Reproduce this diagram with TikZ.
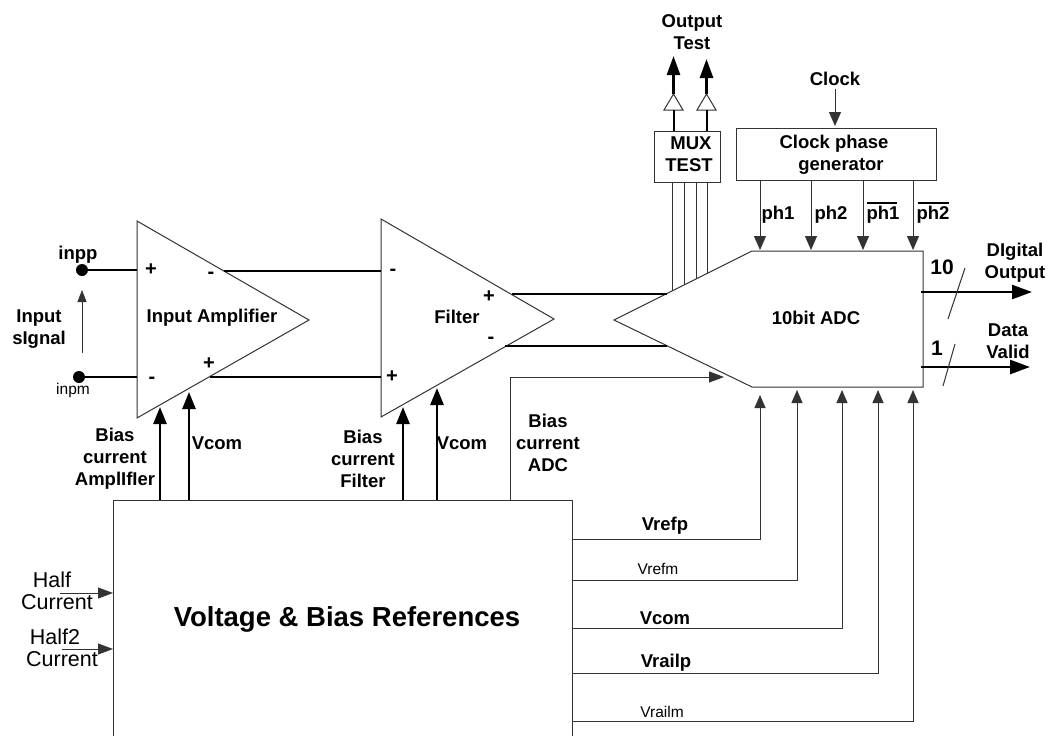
\documentclass[tikz,border=0pt]{standalone}
\usepackage{fontspec}
\setmainfont{Liberation Sans}
\usetikzlibrary{arrows.meta}
\tikzset{
  x=1pt,y=-1pt,
  thinl/.style={draw=black!80,line width=1pt},
  thickl/.style={draw=black,line width=2.7pt},
  arr/.style={-{Triangle[length=13pt,width=11pt]}},
  arrb/.style={-{Triangle[length=17pt,width=13pt]}},
  arro/.style={-{Triangle[length=20pt,width=14pt]}},
  lab/.style={inner sep=0pt,align=center,font=\fontsize{18.5}{22}\selectfont\bfseries},
  labn/.style={inner sep=0pt,align=center,font=\fontsize{21.5}{22.5}\selectfont},
  labs/.style={inner sep=0pt,font=\fontsize{15.5}{18}\selectfont},
  sign/.style={inner sep=0pt,font=\fontsize{20}{20}\selectfont\bfseries},
}
\begin{document}
\begin{tikzpicture}
\useasboundingbox (0,0) rectangle (1055,736);
\fill[white] (0,0) rectangle (1055,736);
% coordinates
\coordinate (inppc) at (82,270);
\coordinate (inpmc) at (79,377);
% blocks
\draw[thinl] (137,221) -- (309,320) -- (137,418) -- cycle;
\draw[thinl] (381,219) -- (554,319) -- (381,417) -- cycle;
\draw[thinl] (752,251) -- (923,251) -- (923,387) -- (752,387) -- (614,320) -- cycle;
\draw[thinl] (113,736) -- (113,500) -- (572,500) -- (572,736);
\node[thinl,draw,minimum width=66pt,minimum height=51pt,inner sep=0pt] (mux) at (687,156.5) {};
\node[thinl,draw,minimum width=200pt,minimum height=52pt,inner sep=0pt] (clk) at (836,154) {};
\draw[thinl] (664,110) -- (673.5,94) -- (683,110) -- cycle;
\draw[thinl] (697,110) -- (706.5,94) -- (716,110) -- cycle;
% thick signal lines
\fill (inppc) circle (6pt);
\fill (inpmc) circle (6pt);
\draw[thickl] (inppc) -- (137,270);
\draw[thickl] (inpmc) -- (137,377);
\draw[thickl] (224,271) -- (381,271);
\draw[thickl] (210,377) -- (381,377);
\draw[thickl] (512,294) -- (667,294);
\draw[thickl] (505,346) -- (667,346);
% input signal arrow
\draw[thinl,-{Triangle[length=12pt,width=9pt]}] (82,353) -- (82,290);
% bias arrows
\draw[thickl,arrb] (160,500) -- (160,407);
\draw[thickl,arrb] (189,500) -- (189,392);
\draw[thickl,arrb] (403,500) -- (403,407);
\draw[thickl,arrb] (437,500) -- (437,388);
% bias ADC
\draw[thinl,-{Triangle[length=15pt,width=11pt]}] (510,500) -- (510,377) -- (724,377);
% references
\draw[thinl,arr] (572,539) -- (760,539) -- (760,395);
\draw[thinl,arr] (572,580) -- (797,580) -- (797,390);
\draw[thinl,arr] (572,628) -- (842,628) -- (842,390);
\draw[thinl,arr] (572,673) -- (878,673) -- (878,390);
\draw[thinl,arr] (572,721) -- (913,721) -- (913,390);
% half
\draw[thinl,-{Triangle[length=15pt,width=11pt]}] (60,593) -- (113,593);
\draw[thinl,-{Triangle[length=15pt,width=11pt]}] (62,649) -- (113,649);
% mux
\draw[thinl] (672,182) -- (672,291);
\draw[thinl] (684,182) -- (684,285);
\draw[thinl] (696,182) -- (696,279);
\draw[thinl] (707,182) -- (707,273.5);
\draw[thickl] (674,131) -- (674,110);
\draw[thickl] (707,131) -- (707,110);
\draw[thickl,-{Triangle[length=19pt,width=13pt]}] (673.5,94) -- (673.5,56);
\draw[thickl,-{Triangle[length=19pt,width=13pt]}] (706.5,94) -- (706.5,59);
% clock
\draw[thinl,-{Triangle[length=14pt,width=12pt]}] (835,89) -- (835,126);
\draw[thinl,-{Triangle[length=14pt,width=12pt]}] (760,180) -- (760,250);
\draw[thinl,-{Triangle[length=14pt,width=12pt]}] (811,180) -- (811,250);
\draw[thinl,-{Triangle[length=14pt,width=12pt]}] (863,180) -- (863,250);
\draw[thinl,-{Triangle[length=14pt,width=12pt]}] (913,180) -- (913,250);
% outputs
\draw[thickl,arro] (921,292) -- (1032,292);
\draw[thickl,arro] (921,367) -- (1030,367);
\draw[thinl] (965,268) -- (948,319);
\draw[thinl] (955,344) -- (943,386);
% texts
\node[lab] (t1) at (692,32) {Output\\Test};
\node[lab] (t2) at (835,79) {Clock};
\node[lab] (t3) at (689,154) {\hspace*{4pt}MUX\\TEST};
\node[lab] (t4) at (837,155) {Clock phase\hspace*{6pt}\\\hspace*{8pt}generator};
\node[lab] (t5) at (778,215) {ph1};
\node[lab] (t6) at (831,215) {ph2};
\node[lab] (t7) at (883,215) {ph1};
\node[lab] (t8) at (933,215) {ph2};
\draw[line width=1.6pt] (867,203) -- (897,203);
\draw[line width=1.6pt] (918,203) -- (949,203);
\node[lab] (t9) at (816,318) {10bit ADC};
\node[lab] (t10) at (1015,263) {DIgital\\Output};
\node[lab] (t11) at (1008,341) {Data\\Valid};
\node[labn,font=\fontsize{21}{22}\selectfont\bfseries] (t12) at (942,267) {10};
\node[labn,font=\fontsize{21}{22}\selectfont\bfseries] (t13) at (937,348) {1};
\node[lab] (t14) at (78,255) {inpp};
\node[labs] (t15) at (73,390) {inpm};
\node[lab] (t16) at (39,329) {Input\\sIgnal};
\node[lab] (t17) at (212,318) {Input Amplifier};
\node[lab] (t18) at (457,317) {Filter};
\node[lab] (t19) at (115,459) {Bias\\current\\AmplIfIer};
\node[lab] (t20) at (217,443) {Vcom};
\node[lab] (t21) at (363,459) {Bias\\current\\Filter};
\node[lab] (t22) at (462,443) {Vcom};
\node[lab] (t23) at (548,443) {Bias\\current\\ADC};
\node[lab] (t24) at (665,526) {Vrefp};
\node[labs] (t25) at (658,569) {Vrefm};
\node[lab] (t26) at (665,618) {Vcom};
\node[lab] (t27) at (666,663) {Vrailp};
\node[labs] (t28) at (662,712) {Vrailm};
\node[labn] (t29) at (57,591) {Half\hspace*{10pt}\\Current};
\node[labn] (t30) at (62,648) {Half2\hspace*{14pt}\\Current};
\node[inner sep=0pt,font=\fontsize{27.5}{30}\selectfont\bfseries] (t31) at (347,619) {Voltage \& Bias References};
% signs
\node[sign] at (151,270) {+};
\node[sign] at (211,275) {-};
\node[sign] at (152,380) {-};
\node[sign] at (209,364) {+};
\node[sign] at (393,272) {-};
\node[sign] at (392,377) {+};
\node[sign] at (489,297) {+};
\node[sign] at (491,340) {-};
\end{tikzpicture}
\end{document}
